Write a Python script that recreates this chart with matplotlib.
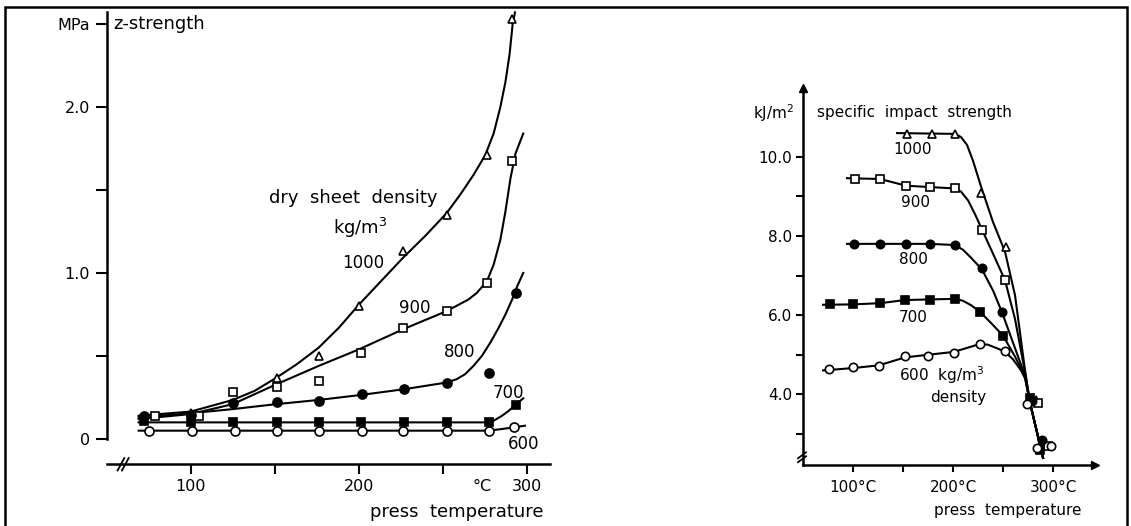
import matplotlib.pyplot as plt
from matplotlib.patches import Rectangle

# ---------------- left panel: z-strength (MPa) ----------------
# fitted curves
z1000_t = [69, 100, 125, 138, 151, 163, 176, 188, 200, 213, 226, 240, 252, 260, 268, 275, 280, 284, 287, 289.5, 291.3, 292.7]
z1000_v = [0.14, 0.165, 0.235, 0.29, 0.37, 0.45, 0.55, 0.67, 0.81, 0.95, 1.09, 1.23, 1.36, 1.47, 1.59, 1.71, 1.84, 2.0, 2.15, 2.32, 2.5, 2.57]
z900_t = [69, 100, 125, 151, 176, 200, 226, 252, 265, 270, 276, 280, 284, 287, 290, 293, 297.6]
z900_v = [0.12, 0.15, 0.21, 0.33, 0.44, 0.54, 0.66, 0.77, 0.84, 0.88, 0.95, 1.05, 1.2, 1.37, 1.57, 1.72, 1.84]
z800_t = [69, 100, 125, 151, 176, 201, 227, 252, 258, 263, 268, 273, 278, 283, 287, 291, 294, 297.6]
z800_v = [0.13, 0.155, 0.18, 0.21, 0.235, 0.265, 0.30, 0.34, 0.36, 0.39, 0.44, 0.50, 0.58, 0.67, 0.75, 0.84, 0.92, 1.0]
z700_t = [69, 100, 150, 200, 250, 277, 280, 285, 289, 293, 297.6]
z700_v = [0.10, 0.10, 0.10, 0.10, 0.10, 0.10, 0.11, 0.14, 0.17, 0.205, 0.245]
z600_t = [69, 100, 150, 200, 250, 277, 285, 292, 298.6]
z600_v = [0.05, 0.05, 0.05, 0.05, 0.05, 0.05, 0.06, 0.07, 0.08]

# measured points
p1000_t = [72, 100, 151, 176, 200, 226, 252, 276, 291]
p1000_v = [0.14, 0.155, 0.367, 0.50, 0.80, 1.135, 1.35, 1.71, 2.53]
p900_t = [79, 105, 125, 151, 176, 201, 226, 252, 276, 291]
p900_v = [0.137, 0.137, 0.283, 0.311, 0.347, 0.518, 0.669, 0.773, 0.94, 1.673]
p800_t = [72, 100, 125, 151, 176, 202, 227, 252, 277, 293]
p800_v = [0.137, 0.147, 0.217, 0.22, 0.227, 0.273, 0.30, 0.337, 0.398, 0.88]
p700_t = [72, 100, 125, 151, 176, 201, 227, 252, 277, 293]
p700_v = [0.11, 0.10, 0.10, 0.102, 0.102, 0.102, 0.102, 0.102, 0.102, 0.207]
p600_t = [75, 101, 126, 151, 176, 202, 226, 252, 277, 292]
p600_v = [0.05, 0.05, 0.05, 0.05, 0.05, 0.05, 0.05, 0.05, 0.05, 0.07]

z_ticks = [0, 0.5, 1.0, 1.5, 2.0, 2.5]
z_ticklabels = ["0", "", "1.0", "", "2.0", "MPa"]
zt_ticks = [100, 150, 200, 250, 300]
zt_ticklabels = ["100", "", "200", "", "300"]

# ---------------- right panel: specific impact strength ----------------
i1000_t = [144, 202, 208, 214, 220, 228, 240, 252, 262, 272, 277, 290]
i1000_v = [10.6, 10.58, 10.5, 10.3, 9.9, 9.25, 8.35, 7.6, 6.5, 4.6, 3.78, 2.39]
i900_t = [94, 127, 153, 202, 208, 215, 222, 229, 240, 252, 262, 272, 277, 290]
i900_v = [9.46, 9.44, 9.27, 9.2, 9.12, 8.9, 8.55, 8.16, 7.55, 6.88, 5.9, 4.55, 3.78, 2.39]
i800_t = [94, 177, 202, 210, 218, 229, 240, 249, 260, 272, 277, 290]
i800_v = [7.8, 7.8, 7.77, 7.65, 7.45, 7.15, 6.62, 6.07, 5.3, 4.47, 3.78, 2.39]
i700_t = [70, 100, 127, 152, 202, 210, 218, 227, 238, 250, 262, 272, 277, 290]
i700_v = [6.26, 6.27, 6.3, 6.38, 6.41, 6.36, 6.25, 6.08, 5.8, 5.48, 4.95, 4.45, 3.78, 2.39]
i600_t = [70, 100, 126, 152, 201, 227, 235, 245, 252, 260, 268, 272, 277, 290]
i600_v = [4.6, 4.66, 4.73, 4.93, 5.07, 5.27, 5.25, 5.15, 5.07, 4.88, 4.6, 4.4, 3.78, 2.39]

q1000_t = [154, 179, 202, 228, 253, 283, 291]
q1000_v = [10.58, 10.58, 10.58, 9.08, 7.71, 3.85, 2.75]
q900_t = [102, 127, 153, 177, 202, 229, 252, 285, 295]
q900_v = [9.44, 9.44, 9.27, 9.23, 9.2, 8.16, 6.88, 3.78, 2.7]
q800_t = [101, 127, 153, 177, 202, 229, 249, 279, 289]
q800_v = [7.8, 7.8, 7.8, 7.8, 7.76, 7.2, 6.07, 3.82, 2.85]
q700_t = [77, 100, 127, 152, 177, 202, 227, 250, 277, 287]
q700_v = [6.27, 6.27, 6.3, 6.38, 6.38, 6.4, 6.08, 5.47, 3.9, 2.6]
q600_t = [76, 100, 126, 152, 175, 201, 227, 252, 274, 284, 298]
q600_v = [4.64, 4.68, 4.72, 4.97, 4.97, 5.03, 5.26, 5.08, 3.75, 2.65, 2.68]

i_ticks = [3, 4, 5, 6, 7, 8, 9, 10]
i_ticklabels = ["", "4.0", "", "6.0", "", "8.0", "", "10.0"]
it_ticks = [100, 150, 200, 250, 300]
it_ticklabels = ["100°C", "", "200°C", "", "300°C"]

LW = 1.5
FS_L = 13     # words, left panel
FN_L = 12     # curve numbers, left panel
FS_R = 11

fig = plt.figure(figsize=(11.31, 5.26), dpi=100)

# scanned page frame
fig.patches.append(Rectangle((5 / 1131, -0.02), 1122 / 1131, 1.0 - 0.0133 + 0.02,
                             transform=fig.transFigure, fill=False,
                             edgecolor="black", lw=1.8))

#---------------#
#  left panel   #
#---------------#
ax = fig.add_axes([0.0943, 0.1175, 0.392, 0.859])
ax.set_xlim(50, 313.5)
ax.set_ylim(-0.152, 2.57)

curves = [(z1000_t, z1000_v), (z900_t, z900_v), (z800_t, z800_v),
          (z700_t, z700_v), (z600_t, z600_v)]
for t, v in curves:
    ax.plot(t, v, color="black", lw=LW, zorder=2, clip_on=False)

mk = dict(ls="none", mec="black", mew=1.2, zorder=3, clip_on=False)
ax.plot(p1000_t, p1000_v, marker="^", ms=6, mfc="white", **mk)
ax.plot(p900_t, p900_v, marker="s", ms=5.5, mfc="white", **mk)
ax.plot(p800_t, p800_v, marker="o", ms=6.5, mfc="black", **mk)
ax.plot(p700_t, p700_v, marker="s", ms=5.5, mfc="black", **mk)
ax.plot(p600_t, p600_v, marker="o", ms=6.5, mfc="white", **mk)

for s in ["top", "right"]:
    ax.spines[s].set_visible(False)
ax.spines["left"].set_bounds(0, 2.57)
ax.spines["left"].set_linewidth(1.8)
ax.spines["bottom"].set_linewidth(1.8)
ax.set_yticks(z_ticks)
ax.set_yticklabels(z_ticklabels)
ax.set_xticks(zt_ticks)
ax.set_xticklabels(zt_ticklabels)
ax.tick_params(axis="y", direction="out", length=8, width=1.5, pad=4, labelsize=11.5)
ax.tick_params(axis="x", direction="out", length=7, width=1.5, pad=4, labelsize=11.5)

# axis break on the temperature axis
for dx in (0, 2.6):
    ax.plot([56.5 + dx, 60.5 + dx], [-0.19, -0.115], color="black", lw=1.3, clip_on=False)

ax.text(53.7, 2.5, "z-strength", fontsize=FS_L, va="center", ha="left")
ax.text(196.6, 1.452, "dry  sheet  density", fontsize=FS_L, ha="center", va="center")
ax.text(200.6, 1.271, "kg/m$^3$", fontsize=FS_L, ha="center", va="center")
ax.text(202.6, 1.06, "1000", fontsize=FN_L, ha="center", va="center")
ax.text(233.3, 0.789, "900", fontsize=FN_L, ha="center", va="center")
ax.text(259.6, 0.524, "800", fontsize=FN_L, ha="center", va="center")
ax.text(288.7, 0.277, "700", fontsize=FN_L, ha="center", va="center")
ax.text(297.6, -0.03, "600", fontsize=FN_L, ha="center", va="center")
ax.text(272.9, -0.287, "°C", fontsize=11.5, ha="center", va="center")
ax.text(258.2, -0.438, "press  temperature", fontsize=FS_L, ha="center", va="center")

#---------------#
#  right panel  #
#---------------#
bx = fig.add_axes([0.71, 0.116, 0.2582, 0.7167])
bx.set_xlim(50, 342)
bx.set_ylim(2.21, 11.74)

icurves = [(i1000_t, i1000_v), (i900_t, i900_v), (i800_t, i800_v),
           (i700_t, i700_v), (i600_t, i600_v)]
for t, v in icurves:
    bx.plot(t, v, color="black", lw=LW, zorder=2)

bx.plot(q1000_t, q1000_v, marker="^", ms=5.5, mfc="white", **mk)
bx.plot(q900_t, q900_v, marker="s", ms=5.5, mfc="white", **mk)
bx.plot(q800_t, q800_v, marker="o", ms=6, mfc="black", **mk)
bx.plot(q700_t, q700_v, marker="s", ms=5.5, mfc="black", **mk)
bx.plot(q600_t, q600_v, marker="o", ms=6, mfc="white", **mk)

for s in ["top", "right"]:
    bx.spines[s].set_visible(False)
bx.spines["left"].set_linewidth(1.8)
bx.spines["bottom"].set_linewidth(1.8)
bx.plot(0, 1, marker="^", color="black", ms=6, transform=bx.transAxes, clip_on=False)
bx.plot(1, 0, marker=">", color="black", ms=6, transform=bx.transAxes, clip_on=False)
bx.set_yticks(i_ticks)
bx.set_yticklabels(i_ticklabels)
bx.set_xticks(it_ticks)
bx.set_xticklabels(it_ticklabels)
bx.tick_params(axis="y", direction="out", length=5, width=1.5, pad=3, labelsize=FS_R)
bx.tick_params(axis="x", direction="out", length=5, width=1.5, pad=6, labelsize=FS_R)

# axis break on the strength axis
for dy in (0, 0.1):
    bx.plot([45, 53], [2.28 + dy, 2.43 + dy], color="black", lw=1.3, clip_on=False)

bx.text(41, 11.11, "kJ/m$^2$", fontsize=FS_R, ha="right", va="center")
bx.text(64, 11.11, "specific  impact  strength", fontsize=FS_R, ha="left", va="center")
bx.text(160, 10.18, "1000", fontsize=FS_R, ha="center", va="center")
bx.text(162, 8.84, "900", fontsize=FS_R, ha="center", va="center")
bx.text(160, 7.4, "800", fontsize=FS_R, ha="center", va="center")
bx.text(160, 5.93, "700", fontsize=FS_R, ha="center", va="center")
bx.text(189, 4.49, "600  kg/m$^3$", fontsize=FS_R, ha="center", va="center")
bx.text(205, 3.91, "density", fontsize=FS_R, ha="center", va="center")
bx.text(255, 1.07, "press  temperature", fontsize=FS_R, ha="center", va="center", clip_on=False)

fig.savefig("out.png", dpi=100)
